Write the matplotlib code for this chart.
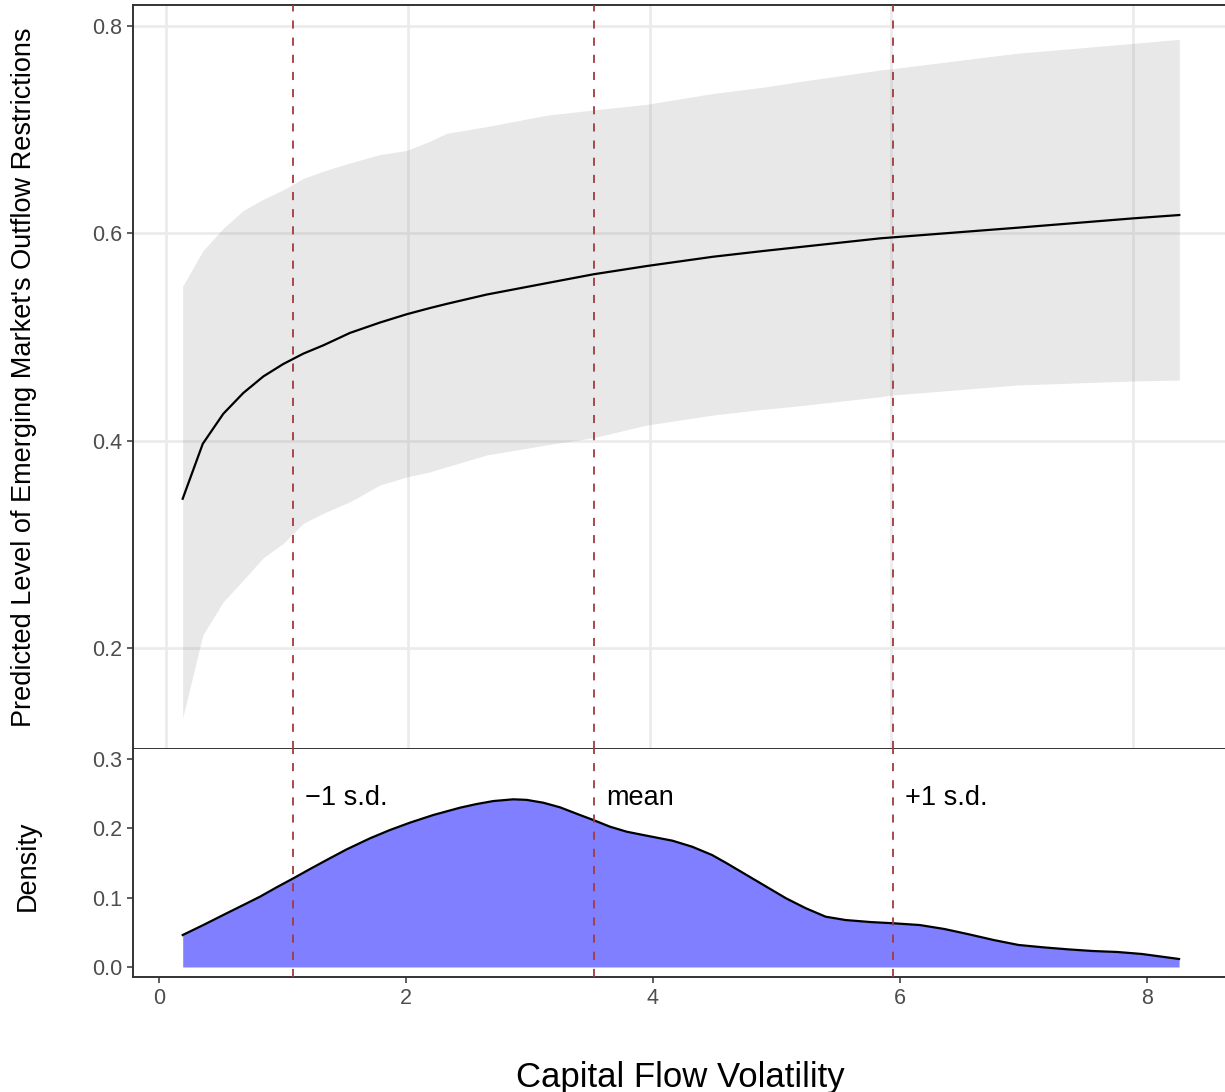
import matplotlib
matplotlib.use("Agg")
import matplotlib.pyplot as plt

plt.rcParams["font.family"] = ["Liberation Sans", "DejaVu Sans"]

# Predicted outflow restrictions (upper panel, its own x scale).
pred_x = [0.138, 0.304, 0.474, 0.639, 0.805, 0.970, 1.136, 1.301, 1.522, 1.770,
          1.991, 2.184, 2.322, 2.653, 3.149, 3.534, 3.976, 4.527, 4.940, 5.217,
          5.906, 6.016, 7.036, 8.001, 8.381]
pred_fit = [0.344, 0.397, 0.426, 0.446, 0.462, 0.474, 0.484, 0.492, 0.504, 0.514,
            0.522, 0.528, 0.532, 0.541, 0.552, 0.5605, 0.5685, 0.5775, 0.583, 0.5865,
            0.5952, 0.5962, 0.6054, 0.6145, 0.6177]
pred_hi = [0.549, 0.583, 0.605, 0.622, 0.633, 0.642, 0.653, 0.660, 0.668, 0.676,
           0.680, 0.689, 0.6965, 0.703, 0.714, 0.719, 0.7245, 0.735, 0.741, 0.746,
           0.7576, 0.759, 0.7737, 0.7833, 0.7872]
pred_lo = [0.1325, 0.2125, 0.2447, 0.2656, 0.2871, 0.301, 0.3203, 0.330, 0.3411, 0.3573,
           0.365, 0.370, 0.3749, 0.3862, 0.396, 0.4029, 0.4151, 0.4248, 0.4303, 0.4334,
           0.4424, 0.4441, 0.4537, 0.4576, 0.4585]

# Density of capital flow volatility (lower panel).
dens_x = [0.192, 0.359, 0.548, 0.683, 0.818, 0.953, 1.088, 1.223, 1.358, 1.520,
          1.709, 1.870, 2.032, 2.221, 2.437, 2.572, 2.707, 2.869, 2.977, 3.112,
          3.247, 3.409, 3.517, 3.652, 3.787, 3.922, 4.057, 4.157, 4.317, 4.478,
          4.598, 4.758, 4.918, 5.078, 5.238, 5.398, 5.559, 5.759, 5.947, 6.159,
          6.359, 6.559, 6.759, 6.960, 7.159, 7.360, 7.560, 7.760, 7.960, 8.260]
dens_y = [0.046, 0.0604, 0.0773, 0.0892, 0.1012, 0.1147, 0.1276, 0.141, 0.154, 0.1693,
          0.1852, 0.1971, 0.2077, 0.2187, 0.2292, 0.2345, 0.2388, 0.2413, 0.2405, 0.2364,
          0.2298, 0.2187, 0.2115, 0.2019, 0.1947, 0.1899, 0.1852, 0.1818, 0.1731, 0.1612,
          0.1492, 0.1324, 0.1156, 0.0988, 0.0845, 0.0724, 0.0676, 0.0647, 0.0629, 0.0604,
          0.0547, 0.047, 0.0388, 0.0317, 0.0283, 0.0254, 0.023, 0.0216, 0.0187, 0.0115]

# Mean and +/- 1 s.d. markers.
top_vlines = [1.050, 3.540, 6.013]
bottom_vlines = [1.085, 3.522, 5.943]
vline_labels = ["\u22121 s.d.", "mean", "+1 s.d."]

x_ticks = [0, 2, 4, 6, 8]
top_y_ticks = [0.2, 0.4, 0.6, 0.8]
bottom_y_ticks = [0.0, 0.1, 0.2, 0.3]

dark = "#333333"
tick_grey = "#4D4D4D"
vline_color = "#9F3B3F"
dash = (0, (4.5, 5.0))

fig = plt.figure(figsize=(12.25, 10.92), dpi=100)
ax1 = fig.add_axes([0.10857, 0.31410, 0.89143, 0.68132])
ax2 = fig.add_axes([0.10857, 0.10531, 0.89143, 0.20879])

# Upper panel.
ax1.fill_between(pred_x, pred_lo, pred_hi, color="#8c8c8c", alpha=0.2, lw=0)
ax1.plot(pred_x, pred_fit, color="black", lw=1.6)
for v in top_vlines:
    ax1.axvline(v, color=vline_color, lw=1.3, ls=dash, zorder=3)
ax1.set_xlim(-0.273, 8.759)
ax1.set_ylim(0.1026, 0.8203)
ax1.set_xticks(x_ticks)
ax1.set_yticks(top_y_ticks)
ax1.set_yticklabels([f"{t:.1f}" for t in top_y_ticks])
ax1.grid(True, color="#EBEBEB", lw=1.9)
ax1.set_axisbelow(True)
ax1.tick_params(axis="x", length=0, labelbottom=False)
ax1.tick_params(axis="y", length=4.5, width=1.1, color=dark, labelcolor=tick_grey,
                labelsize=15.5, pad=3.5)
ax1.spines["right"].set_visible(False)
for s in ["left", "top", "bottom"]:
    ax1.spines[s].set_color(dark)
    ax1.spines[s].set_linewidth(1.4)

# Lower panel.
ax2.fill_between(dens_x, 0, dens_y, color="#7F7FFF", lw=0)
ax2.plot(dens_x, dens_y, color="black", lw=1.6)
for v, lab in zip(bottom_vlines, vline_labels):
    ax2.axvline(v, color=vline_color, lw=1.3, ls=dash, zorder=3)
    ax2.annotate(lab, (v, 0.233), xytext=(8.5, 0), textcoords="offset points",
                 fontsize=19.5, va="baseline", ha="left", color="black")
ax2.set_xlim(-0.2105, 8.632)
ax2.set_ylim(-0.0144, 0.3137)
ax2.set_xticks(x_ticks)
ax2.set_yticks(bottom_y_ticks)
ax2.set_yticklabels([f"{t:.1f}" for t in bottom_y_ticks])
ax2.tick_params(length=4.5, width=1.1, color=dark, labelcolor=tick_grey,
                labelsize=15.5, pad=3.5)
ax2.spines["right"].set_visible(False)
ax2.spines["top"].set_visible(False)
for s in ["left", "bottom"]:
    ax2.spines[s].set_color(dark)
    ax2.spines[s].set_linewidth(1.4)

# Axis titles.
fig.text(24 / 1225, 1 - 377 / 1092,
         "Predicted Level of Emerging Market's Outflow Restrictions",
         rotation=90, ha="center", va="center", fontsize=19.5)
fig.text(28 / 1225, 1 - 866 / 1092, "Density",
         rotation=90, ha="center", va="center", fontsize=19.5)
fig.text(680 / 1225, 1 - 1087 / 1092, "Capital Flow Volatility",
         ha="center", va="baseline", fontsize=25)

fig.savefig("out.png", dpi=100)
